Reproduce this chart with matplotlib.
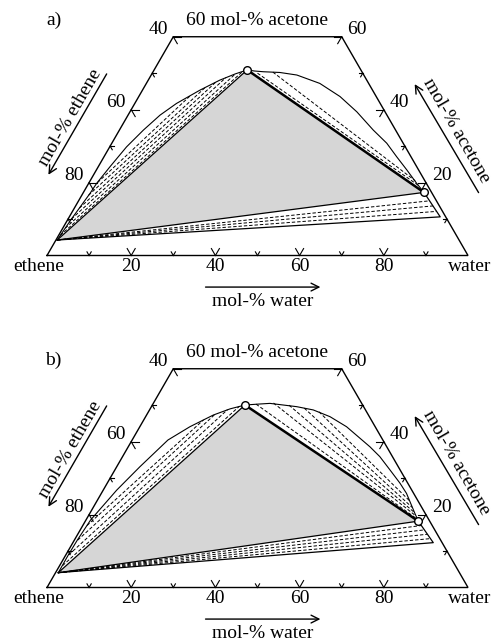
import numpy as np
import matplotlib
matplotlib.use("Agg")
import matplotlib.pyplot as plt

plt.rcParams['font.family'] = ['Liberation Serif', 'DejaVu Serif']
plt.rcParams['font.size'] = 14

# all compositions given as (acetone, water) mole fractions; ethene = rest
# panel a)
a_triangle = [(0.0425, 0.003), (0.509, 0.221), (0.173, 0.809)]
a_band_end = (0.106, 0.881)
a_left_arc = [(0.0425, 0.003), (0.10, 0.008), (0.17, 0.017), (0.198, 0.019),
              (0.244, 0.028), (0.298, 0.040), (0.344, 0.057), (0.385, 0.076),
              (0.417, 0.099), (0.454, 0.137), (0.481, 0.170), (0.498, 0.198),
              (0.509, 0.221)]
a_right_arc = [(0.509, 0.221), (0.506, 0.240), (0.504, 0.262), (0.502, 0.302),
               (0.495, 0.346), (0.472, 0.412), (0.436, 0.478), (0.394, 0.539),
               (0.344, 0.603), (0.308, 0.653), (0.271, 0.695), (0.235, 0.737),
               (0.198, 0.779), (0.173, 0.809)]
a_left_ties = [((0.055, 0.004), (0.504, 0.212)), ((0.075, 0.006), (0.497, 0.198)),
               ((0.10, 0.008), (0.488, 0.181)), ((0.13, 0.012), (0.475, 0.163)),
               ((0.165, 0.016), (0.460, 0.145)), ((0.20, 0.020), (0.440, 0.122))]
a_right_ties = [((0.500, 0.250), (0.190, 0.790)), ((0.503, 0.285), (0.205, 0.772))]
a_band_ties = [(0.150, 0.834), (0.136, 0.849), (0.121, 0.865)]

# panel b)
b_triangle = [(0.0406, 0.0065), (0.5005, 0.220), (0.182, 0.791)]
b_band_end = (0.123, 0.856)
b_left_arc = [(0.0406, 0.0065), (0.09, 0.006), (0.13, 0.007), (0.185, 0.011),
              (0.267, 0.032), (0.331, 0.055), (0.4045, 0.085), (0.441, 0.119),
              (0.473, 0.1585), (0.490, 0.190), (0.5005, 0.220)]
b_right_arc = [(0.5005, 0.220), (0.503, 0.250), (0.505, 0.277), (0.496, 0.345),
               (0.487, 0.389), (0.4685, 0.438), (0.441, 0.491), (0.386, 0.574),
               (0.359, 0.611), (0.322, 0.654), (0.286, 0.6955), (0.258, 0.725),
               (0.2035, 0.772), (0.182, 0.791)]
b_left_ties = [((0.06, 0.007), (0.496, 0.208)), ((0.09, 0.007), (0.488, 0.185)),
               ((0.13, 0.008), (0.476, 0.162)), ((0.17, 0.010), (0.460, 0.142))]
b_right_ties = [((0.503, 0.245), (0.188, 0.785)), ((0.506, 0.285), (0.197, 0.777)),
                ((0.500, 0.325), (0.207, 0.768)), ((0.492, 0.365), (0.220, 0.757)),
                ((0.482, 0.405), (0.238, 0.742))]
b_band_ties = [(0.170, 0.804), (0.158, 0.817), (0.146, 0.830), (0.134, 0.843)]

bottom_ticks = [10, 20, 30, 40, 50, 60, 70, 80, 90]
side_ticks = [10, 20, 30, 40, 50, 60]
s3 = np.sqrt(3) / 2


def tern(pts):
    pts = np.atleast_2d(np.array(pts, dtype=float))
    a, w = pts[:, 0], pts[:, 1]
    return w + a / 2, a * s3


def frame(ax):
    X, Y = tern([(0, 0), (0, 1), (0.6, 0.4), (0.6, 0), (0, 0)])
    ax.plot(X, Y, color='k', lw=1.0, solid_joinstyle='miter')
    for v in bottom_ticks:
        L = 0.019 if v % 20 == 0 else 0.010
        x0 = v / 100
        for d in (0.5, -0.5):
            ax.plot([x0, x0 + d * L], [0, s3 * L], color='k', lw=0.8)
    for v in side_ticks:
        L = 0.019 if v % 20 == 0 else 0.010
        a = v / 100
        # left edge
        x0, y0 = a / 2, a * s3
        ax.plot([x0, x0 + L], [y0, y0], color='k', lw=0.8)
        ax.plot([x0, x0 + 0.5 * L], [y0, y0 - s3 * L], color='k', lw=0.8)
        # right edge
        x1 = 1 - a / 2
        ax.plot([x1, x1 - L], [y0, y0], color='k', lw=0.8)
        ax.plot([x1, x1 - 0.5 * L], [y0, y0 - s3 * L], color='k', lw=0.8)
    for v in bottom_ticks:
        if v % 20 == 0:
            ax.text(v / 100, -0.027, str(v), ha='center', va='center')
    ax.text(-0.019, -0.027, 'ethene', ha='center', va='center')
    ax.text(1.005, -0.027, 'water', ha='center', va='center')
    for v in side_ticks:
        if v % 20 == 0:
            a = v / 100
            ax.text(a / 2 - 0.036, a * s3 + 0.017, str(100 - v), ha='center', va='center')
            ax.text(1 - a / 2 + 0.037, a * s3 + 0.017, str(v), ha='center', va='center')
    ax.text(0.5, 0.558, '60 mol-% acetone', ha='center', va='center')
    ax.text(0.513, -0.110, 'mol-% water', ha='center', va='center')
    ax.annotate('', xy=(0.656, -0.075), xytext=(0.37, -0.075),
                arrowprops=dict(arrowstyle='->', lw=1.0, color='k'))
    ax.text(0.0546, 0.3266, 'mol-% ethene', ha='center', va='center',
            rotation=60, rotation_mode='anchor')
    ax.annotate('', xy=(0.0, 0.186), xytext=(0.145, 0.437),
                arrowprops=dict(arrowstyle='->', lw=1.0, color='k'))
    ax.text(0.973, 0.297, 'mol-% acetone', ha='center', va='center',
            rotation=-60, rotation_mode='anchor')
    ax.annotate('', xy=(0.870, 0.4128), xytext=(1.0285, 0.1437),
                arrowprops=dict(arrowstyle='->', lw=1.0, color='k'))


def panel(ax, label, label_y, tri, band_end, left_arc, right_arc,
          left_ties, right_ties, band_ties):
    dash = (0, (3.5, 2))
    X, Y = tern(tri)
    ax.fill(X, Y, color='#d6d6d6', lw=0, zorder=1)
    ax.plot([X[0], X[1]], [Y[0], Y[1]], color='k', lw=0.9, zorder=3)
    ax.plot([X[0], X[2]], [Y[0], Y[2]], color='k', lw=0.9, zorder=3)
    ax.plot([X[1], X[2]], [Y[1], Y[2]], color='k', lw=1.8, zorder=3)
    ax.plot(*tern(left_arc), color='k', lw=0.8, zorder=3)
    ax.plot(*tern(right_arc), color='k', lw=0.8, zorder=3)
    bx, by = tern([tri[0], band_end, tri[2]])
    ax.plot(bx, by, color='k', lw=0.9, zorder=3)
    for p, q in left_ties + right_ties:
        tx, ty = tern([p, q])
        ax.plot(tx, ty, color='k', lw=0.7, ls=dash, zorder=2)
    for q in band_ties:
        tx, ty = tern([tri[0], q])
        ax.plot(tx, ty, color='k', lw=0.7, ls=dash, zorder=2)
    cx, cy = tern([tri[1], tri[2]])
    ax.plot(cx, cy, 'o', ms=5.5, mfc='white', mec='k', mew=1.0, ls='none', zorder=5)
    frame(ax)
    ax.text(0.0155, label_y, label, ha='center', va='center')


fig = plt.figure(figsize=(4.95, 6.39), dpi=100)
ax_a = fig.add_axes([0, 0.5, 1, 0.5])
ax_a.set_xlim(-47 / 421, 448 / 421)
ax_a.set_ylim(-64 / 421, 255.5 / 421)
ax_b = fig.add_axes([0, 0, 1, 0.5])
ax_b.set_xlim(-47 / 421, 448 / 421)
ax_b.set_ylim(-51.5 / 421, 268 / 421)
for ax in (ax_a, ax_b):
    ax.axis('off')

panel(ax_a, 'a)', 0.558, a_triangle, a_band_end, a_left_arc, a_right_arc,
      a_left_ties, a_right_ties, a_band_ties)
panel(ax_b, 'b)', 0.540, b_triangle, b_band_end, b_left_arc, b_right_arc,
      b_left_ties, b_right_ties, b_band_ties)

fig.savefig('out.png', dpi=100)
